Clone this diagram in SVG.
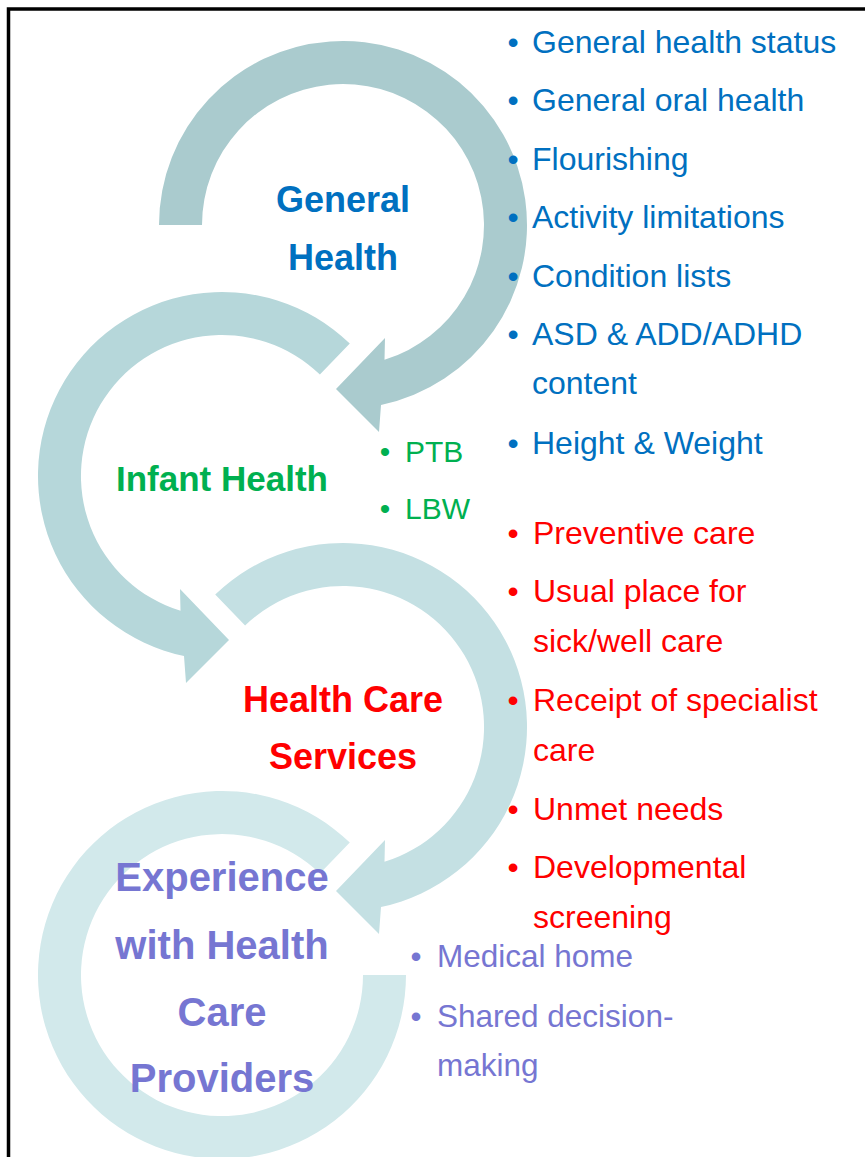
<svg xmlns="http://www.w3.org/2000/svg" width="865" height="1157" viewBox="0 0 865 1157">
<style>
  .t { font-family: "Liberation Sans", Arial, sans-serif; }
  .title { font-weight: bold; text-anchor: middle; }
  .li { font-size: 32px; }
  .bul { text-anchor: middle; }
  .blue { fill: #0070C0; }
  .green { fill: #00B050; }
  .red { fill: #FF0000; }
  .purple { fill: #7676D2; }
</style>
<defs>
  <path id="ringArrow" d="M -127.8,-132.4 A 184 184 0 1 1 38,180 L 36,207 L -7,164 L 42,113 L 41.5,134.8 A 141 141 0 1 0 -97.9,-101.4 Z"/>
</defs>
<rect x="0" y="0" width="865" height="1157" fill="#FFFFFF"/>
<path d="M 8.5,1157 V 9 H 865" fill="none" stroke="#000000" stroke-width="3.5"/>

<g id="connectors">
  <path id="ring-general" fill="#AACBCE" transform="translate(343,225)" d="M -184,0 A 184 184 0 1 1 38,180 L 36,207 L -7,164 L 42,113 L 41.5,134.8 A 141 141 0 1 0 -141,0 Z"/>
  <use id="ring-infant" href="#ringArrow" fill="#B6D7DA" transform="translate(222,476) scale(-1,1)"/>
  <use id="ring-services" href="#ringArrow" fill="#C4E0E3" transform="translate(343,727)"/>
  <path id="ring-experience" fill="#D2E9EB" transform="translate(222,975) scale(-1,1)" d="M -127.8,-132.4 A 184 184 0 1 1 -184,0 L -141,0 A 141 141 0 1 0 -97.9,-101.4 Z"/>
</g>

<g id="node-general-health" class="t">
  <text class="title blue" font-size="36" x="343" y="212">General</text>
  <text class="title blue" font-size="36" x="343" y="270">Health</text>
  <g class="li blue">
    <text class="bul" x="513" y="53">•</text><text x="532" y="53">General health status</text>
    <text class="bul" x="513" y="111">•</text><text x="532" y="111">General oral health</text>
    <text class="bul" x="513" y="170">•</text><text x="532" y="170">Flourishing</text>
    <text class="bul" x="513" y="228">•</text><text x="532" y="228">Activity limitations</text>
    <text class="bul" x="513" y="287">•</text><text x="532" y="287">Condition lists</text>
    <text class="bul" x="513" y="345">•</text><text x="532" y="345">ASD &amp; ADD/ADHD</text>
    <text x="532" y="394">content</text>
    <text class="bul" x="513" y="454">•</text><text x="532" y="454">Height &amp; Weight</text>
  </g>
</g>

<g id="node-infant-health" class="t">
  <text class="title green" font-size="35" x="222" y="491">Infant Health</text>
  <g class="green" font-size="30">
    <text class="bul" x="385" y="462">•</text><text x="405" y="462">PTB</text>
    <text class="bul" x="385" y="519">•</text><text x="405" y="519">LBW</text>
  </g>
</g>

<g id="node-health-care-services" class="t">
  <text class="title red" font-size="36" x="343" y="712">Health Care</text>
  <text class="title red" font-size="36" x="343" y="769">Services</text>
  <g class="li red">
    <text class="bul" x="513" y="544">•</text><text x="533" y="544">Preventive care</text>
    <text class="bul" x="513" y="602">•</text><text x="533" y="602">Usual place for</text>
    <text x="533" y="652">sick/well care</text>
    <text class="bul" x="513" y="711">•</text><text x="533" y="711">Receipt of specialist</text>
    <text x="533" y="761">care</text>
    <text class="bul" x="513" y="820">•</text><text x="533" y="820">Unmet needs</text>
    <text class="bul" x="513" y="878">•</text><text x="533" y="878">Developmental</text>
    <text x="533" y="928">screening</text>
  </g>
</g>

<g id="node-experience" class="t">
  <text class="title purple" font-size="40" x="222" y="891">Experience</text>
  <text class="title purple" font-size="40" x="222" y="959">with Health</text>
  <text class="title purple" font-size="40" x="222" y="1026">Care</text>
  <text class="title purple" font-size="40" x="222" y="1092">Providers</text>
  <g class="purple" font-size="31.5">
    <text class="bul" x="416" y="967">•</text><text x="437" y="967">Medical home</text>
    <text class="bul" x="416" y="1027">•</text><text x="437" y="1027">Shared decision-</text>
    <text x="437" y="1076">making</text>
  </g>
</g>
</svg>
